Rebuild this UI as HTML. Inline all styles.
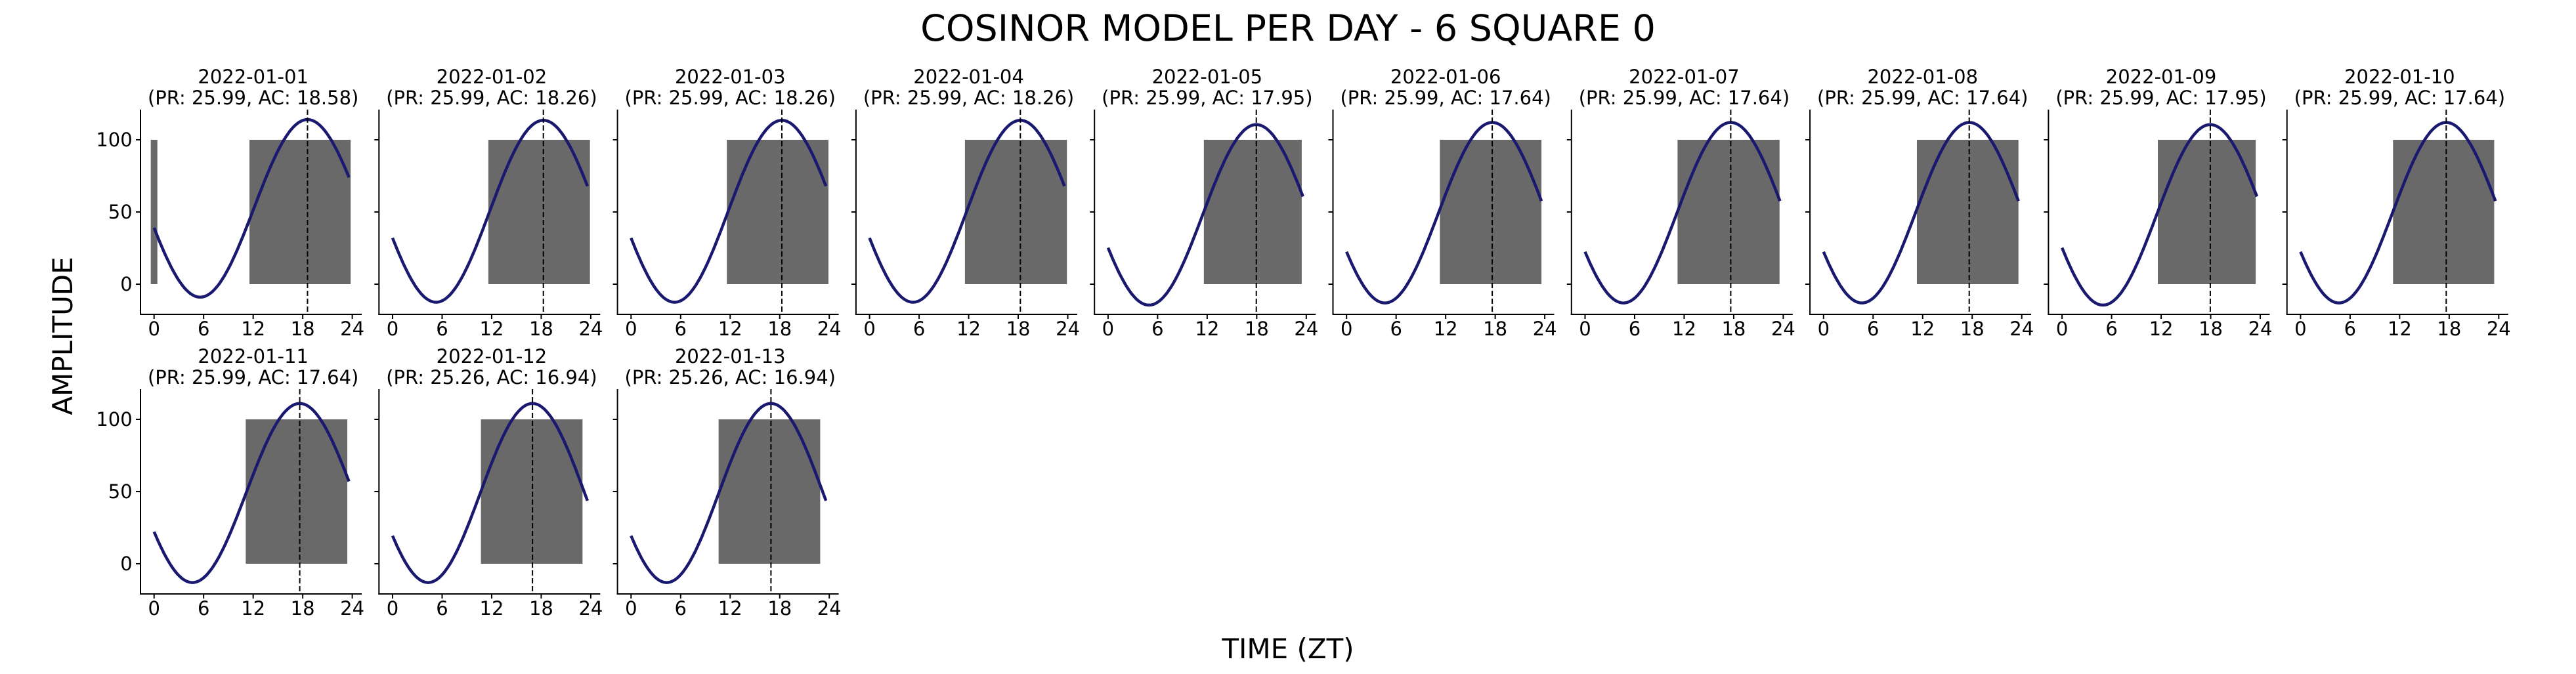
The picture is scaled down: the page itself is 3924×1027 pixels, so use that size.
<!DOCTYPE html>
<html><head><meta charset="utf-8"><style>
html,body{margin:0;padding:0;background:#fff;}
svg{display:block;font-family:"DejaVu Sans","Liberation Sans",sans-serif;}
</style></head><body>
<svg id="chart" width="3924" height="1027" viewBox="0 0 3924 1027" xmlns="http://www.w3.org/2000/svg">
<text x="1962" y="62" font-size="55.5" text-anchor="middle">COSINOR MODEL PER DAY - 6 SQUARE 0</text>
<text transform="translate(110,512) rotate(-90)" font-size="42" text-anchor="middle">AMPLITUDE</text>
<text x="1962" y="1003" font-size="42" text-anchor="middle">TIME (ZT)</text>
<g id="panels"></g>
</svg>
<script>
const dates=["2022-01-01","2022-01-02","2022-01-03","2022-01-04","2022-01-05","2022-01-06","2022-01-07","2022-01-08","2022-01-09","2022-01-10","2022-01-11","2022-01-12","2022-01-13"];
const periods=[25.99,25.99,25.99,25.99,25.99,25.99,25.99,25.99,25.99,25.99,25.99,25.26,25.26];
const acrophases=[18.58,18.26,18.26,18.26,17.95,17.64,17.64,17.64,17.95,17.64,17.64,16.94,16.94];
const mesors=[52.5,50.5,50.5,50.5,48,49.5,49.5,49.5,48,49.5,49,49,49];
const amplitudes=[61.5,63,63,63,62.5,62.5,62.5,62.5,62.5,62.5,62,62,62];
const activeStarts=[11.55,11.6,11.6,11.55,11.6,11.3,11.2,11.3,11.6,11.2,11.1,10.7,10.6];
const activeEnds=[23.8,23.9,23.9,23.9,23.45,23.6,23.55,23.6,23.45,23.45,23.4,23.0,22.9];
const extraBlocks=[[-0.4,0.4],null,null,null,null,null,null,null,null,null,null,null,null];
const curveEnds=[23.6,23.6,23.6,23.6,23.6,23.6,23.6,23.6,23.6,23.6,23.6,23.6,23.6];
const xTicks=[0,6,12,18,24];
const yTicks=[0,50,100];

const NS="http://www.w3.org/2000/svg";
const root=document.getElementById('panels');
function mk(tag,attrs,parent){const e=document.createElementNS(NS,tag);for(const k in attrs)e.setAttribute(k,attrs[k]);parent.appendChild(e);return e;}
const PXH=12.58, PXU=2.2, COLW=363.3, ROWH=426;
dates.forEach((d,i)=>{
  const col=i%10,row=Math.floor(i/10);
  const x0=234.7+col*COLW, y0=433+row*ROWH;
  const X=h=>x0+h*PXH, Y=v=>y0-v*PXU;
  const g=mk('g',{},root);
  
  
  const t1=mk('text',{x:X(12),y:y0-306,'font-size':29,'text-anchor':'middle'},g);
  
  
  t1.textContent=d;
  const t2=mk('text',{x:X(12),y:y0-274,'font-size':29,'text-anchor':'middle'},g);
  
  
  t2.textContent='(PR: '+periods[i].toFixed(2)+', AC: '+acrophases[i].toFixed(2)+')';
  const blocks=[[activeStarts[i],activeEnds[i]]];
  if(extraBlocks[i])blocks.push(extraBlocks[i]);
  blocks.forEach(b=>{
    const r=mk('rect',{x:X(b[0]),y:Y(100),width:X(b[1])-X(b[0]),height:Y(0)-Y(100),fill:'#696969'},g);
    
    
  });
  let pts=[];
  for(let k=0;k<=200;k++){const t=curveEnds[i]*k/200;const v=mesors[i]+amplitudes[i]*Math.cos(2*Math.PI*(t-acrophases[i])/periods[i]);pts.push(X(t).toFixed(1)+','+Y(v).toFixed(1));}
  const p=mk('polyline',{points:pts.join(' '),fill:'none',stroke:'#191970','stroke-width':4.5},g);
  
  
  const ac=mk('line',{x1:X(acrophases[i]),x2:X(acrophases[i]),y1:y0-266,y2:y0+46,stroke:'#000','stroke-width':2,'stroke-dasharray':'8,4'},g);
  
  
  const ys=mk('line',{x1:x0-20.7,x2:x0-20.7,y1:y0-266,y2:y0+47,stroke:'#000','stroke-width':2},g);
  
  
  const xs=mk('line',{x1:x0-21.7,x2:x0+316.3,y1:y0+46,y2:y0+46,stroke:'#000','stroke-width':2},g);
  
  
  xTicks.forEach(v=>{
    mk('line',{x1:X(v),x2:X(v),y1:y0+46,y2:y0+53,stroke:'#000','stroke-width':2},g);
    const tl=mk('text',{x:X(v),y:y0+78,'font-size':29,'text-anchor':'middle'},g);
    
    
    tl.textContent=v;
  });
  yTicks.forEach(v=>{
    mk('line',{x1:x0-27.7,x2:x0-20.7,y1:Y(v),y2:Y(v),stroke:'#000','stroke-width':2},g);
    if(col===0){
      const tl=mk('text',{x:x0-33,y:Y(v)+10,'font-size':29,'text-anchor':'end'},g);
      
      
      tl.textContent=v;
    }
  });
});
</script>
</body></html>
